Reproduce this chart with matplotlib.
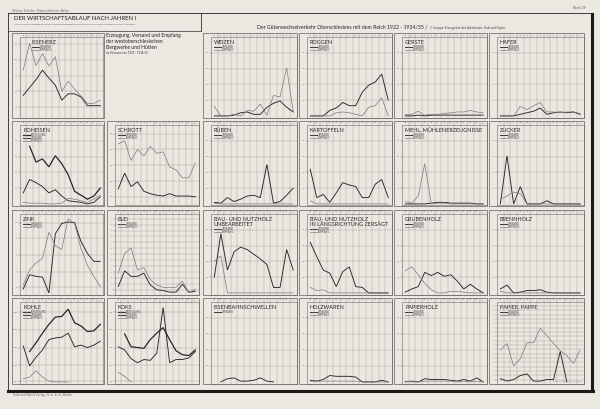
import numpy as np
import matplotlib.pyplot as plt

plt.rcParams['font.family'] = ['Lato', 'DejaVu Sans']

W, H = 600, 409
PAPER = '#ebe8e1'
INK = '#262626'
GREY = '#7a7a7a'
GRID = '#9d9b95'
nan = np.nan

years = ['1922', '1923', '1924', '1925', '1926', '1927', '1928', '1929',
         '1930', '1931', '1932', '1933', '1934/35']

# values, in % of each panel's height (the scales are not legible)
eisenerz_versand = [26, 36, 46, 58, 48, 39, 20, 28, 28, 24, 13, 13, 13]
eisenerz_empfang = [58, 92, 64, 79, 63, 75, 31, 44, 34, 25, 16, 16, 20]
weizen_versand = [0, 0, 0, 1, 4, 5, 2, 2, 11, 16, 19, 11, 5]
weizen_empfang = [12, 0, 0, 2, 0, 7, 6, 15, 1, 26, 24, 61, 6]
roggen_versand = [0, 0, 0, 7, 10, 17, 13, 13, 30, 39, 43, 53, 20]
roggen_empfang = [0, 0, 0, 0, 4, 5, 4, 2, 0, 11, 13, 23, 0]
gerste_versand = [0, 0, 1, 0, 1, 1, 1, 1, 1, 1, 1, 1, 1]
gerste_empfang = [2, 2, 6, 1, 2, 2, 3, 4, 5, 5, 7, 5, 4]
hafer_versand = [0, 0, 0, 2, 4, 6, 10, 2, 4, 5, 4, 5, 2]
hafer_empfang = [0, 0, 0, 12, 8, 13, 17, 5, 5, 4, 5, 5, 3]

roheisen_erzeugung = [nan, 73, 53, 57, 47, 61, 51, 37, 16, 11, 6, 10, 20]
roheisen_versand = [14, 31, 27, 22, 14, 18, 10, 4, 3, 2, 0, 2, 9]
roheisen_empfang = [2, 1, 1, 1, 0, 0, 1, 7, 6, 4, 2, 6, 11]
schrott_versand = [19, 39, 22, 28, 16, 13, 11, 10, 13, 10, 10, 10, 9]
schrott_empfang = [76, 80, 55, 69, 61, 73, 64, 66, 47, 43, 33, 33, 52]
rueben_versand = [2, 1, 8, 3, 6, 10, 11, 8, 50, 1, 3, 11, 20]
rueben_empfang = [1, 0, 0, 0, 0, 0, 0, 0, 0, 0, 0, 0, 0]
kartoffeln_versand = [44, 8, 12, 2, 14, 27, 24, 22, 8, 8, 25, 31, 8]
kartoffeln_empfang = [4, 0, 0, 0, 0, 0, 0, 0, 0, 0, 0, 0, 0]
mehl_versand = [0, 0, 0, 0, 1, 2, 2, 1, 1, 1, 1, 0, 0]
mehl_empfang = [3, 1, 10, 51, 0, 1, 1, 0, 0, 0, 0, 0, 0]
zucker_versand = [0, 61, 0, 22, 0, 0, 0, 4, 0, 0, 0, 0, 0]
zucker_empfang = [6, 10, 15, 13, 0, 0, 0, 0, 0, 0, 0, 0, 0]

zink_versand = [5, 23, 21, 20, 0, 75, 88, 90, 89, 65, 50, 40, 40]
zink_empfang = [10, 29, 38, 44, 77, 60, 55, 94, 88, 56, 35, 21, 8]
blei_versand = [8, 28, 21, 21, 25, 10, 4, 3, 1, 1, 11, 1, 2]
blei_empfang = [25, 50, 57, 29, 32, 17, 10, 7, 7, 7, 15, 0, 5]
bauholz_versand = [20, 75, 29, 52, 58, 55, 49, 43, 36, 7, 7, 55, 29]
bauholz_empfang = [40, 47, 0, 0, 0, 0, 0, 0, 0, 0, 0, 0, 0]
schnittholz_versand = [64, 46, 29, 25, 8, 27, 33, 8, 7, 0, 0, 0, 0]
schnittholz_empfang = [7, 3, 4, 0, 0, 0, 0, 0, 0, 0, 0, 0, 0]
grubenholz_versand = [1, 5, 8, 26, 22, 26, 21, 23, 15, 5, 11, 5, 0]
grubenholz_empfang = [28, 33, 23, 12, 4, 0, 0, 2, 2, 1, 0, 0, 0]
brennholz_versand = [5, 10, 0, 1, 3, 3, 4, 1, 0, 0, 0, 0, 0]
brennholz_empfang = [2, 0, 0, 0, 0, 0, 0, 0, 0, 0, 0, 0, 0]

kohle_foerderung = [nan, 38, 49, 61, 72, 81, 82, 91, 74, 70, 63, 64, 72]
kohle_versand = [45, 20, 31, 40, 53, 55, 56, 61, 44, 46, 43, 46, 51]
kohle_empfang = [4, 6, 14, 6, 1, 0, 0, 0, nan, nan, nan, nan, nan]
koks_erzeugung = [nan, 60, 44, 43, 42, 53, 61, 68, 53, 39, 34, 33, 40]
koks_versand = [44, 40, 29, 24, 28, 27, 36, 93, 24, 28, 28, 30, 38]
koks_empfang = [12, 7, 0, nan, nan, nan, nan, nan, nan, nan, nan, nan, nan]
schwellen_versand = [nan, 0, 4, 5, 1, 1, 2, 5, 1, 0, nan, nan, nan]
holzwaren_versand = [2, 1, 3, 8, 7, 7, 7, 6, 0, 0, 0, 2, 0]
holzwaren_empfang = [1, 1, 1, 1, 1, 1, 1, 1, 0, 0, 0, 0, 0]
papierholz_versand = [0, 1, 0, 4, 3, 3, 3, 2, 1, 3, 1, 5, 0]
papierholz_empfang = [1, 0, 0, 1, 1, 1, 1, 1, 0, 1, 0, 1, 0]
papier_versand = [4, 1, 3, 8, 10, 1, 1, 3, 3, 38, 0, nan, nan]
papier_empfang = [40, 48, 20, 29, 49, 49, 67, 58, 48, 39, 33, 23, 40]

# page layout (pixels)
cols = [(12, 104), (107, 199), (203, 297), (299, 392), (394, 487), (489, 584)]
rows = [(33, 118), (121, 206), (210, 295), (298, 384)]

STY = {'F': dict(color=INK, lw=0.9), 'Z': dict(color=INK, lw=0.9),
       'V': dict(color=INK, lw=0.65), 'E': dict(color=GREY, lw=0.5)}
NAMES = {'F': 'FÖRDERUNG', 'Z': 'ERZEUGUNG', 'V': 'VERSAND', 'E': 'EMPFANG'}

fig = plt.figure(figsize=(6, 4.09), dpi=100, facecolor=PAPER)
bg = fig.add_axes([0, 0, 1, 1])
bg.set_xlim(0, W)
bg.set_ylim(H, 0)
bg.axis('off')
bg.set_facecolor(PAPER)

# sheet frame and headers
bg.plot([7.5, 591, 591, 7.5, 7.5], [13, 13, 390, 390, 13], color='#222', lw=0.6)
bg.plot([591.5, 591.5], [13.5, 391], color='#1a1a1a', lw=2.2)
bg.plot([8, 592.5], [390.5, 390.5], color='#1a1a1a', lw=2.2)
bg.plot([201, 201], [13, 31], color='#333', lw=0.6)
bg.plot([7.5, 201], [30.5, 30.5], color='#333', lw=0.5)
bg.text(12, 10, 'Walter Geisler, Oberschlesien-Atlas', fontsize=2.6, color='#666', va='center')
bg.text(586, 8, 'Blatt 39', fontsize=2.6, color='#666', va='center', ha='right')
bg.text(13, 395, 'Volk und Reich Verlag, G. m. b. H., Berlin', fontsize=2.3, color='#666', va='center')
bg.text(13.5, 19, 'DER WIRTSCHAFTSABLAUF NACH JAHREN I', fontsize=4.3, color='#222', va='center')
bg.text(13.5, 24.5, 'Auf Grund amtlicher Statistik bearbeitet im Wirtschaftsgeographischen Seminar '
        'der Technischen Hochschule und Universität Breslau', fontsize=1.55, color='#555', va='center')
t1 = bg.text(257, 28.5, 'Der Güterwechselverkehr Oberschlesiens mit dem Reich 1922 - 1934/35 /',
             fontsize=3.7, color='#222', va='baseline')
bg.annotate('1. Gruppe: Erzeugnisse des Ackerbaues, Holz und Papier', xy=(1, 0), xycoords=t1,
            xytext=(1.5, 0), textcoords='offset points', fontsize=2.2, color='#444', va='bottom')
for i, line in enumerate(['Erzeugung, Versand und Empfang', 'der westoberschlesischen',
                          'Bergwerke und Hütten']):
    bg.text(106, 35.5 + 5.8 * i, line, fontsize=3.6, color='#222', va='center')
bg.text(106, 53.5, 'im Zeitraum von 1922 - 1934/35', fontsize=2.1, color='#444', va='center')

DEFAULT = [20, 40, 60, 80]


def panel(r, c, title, series, grid=DEFAULT, unit=100, tx=11):
    x0, x1 = cols[c]
    y0, y1 = rows[r]
    pl, pt, pr, pb = x0 + 8, y0 + 4, x1 - 0.5, y1 - 0.5
    bg.add_patch(plt.Rectangle((x0, y0), x1 - x0, y1 - y0, fill=False, ec='#6a6a66', lw=0.55))
    ax = fig.add_axes([pl / W, 1 - pb / H, (pr - pl) / W, (pb - pt) / H])
    ax.set_facecolor('none')
    n = len(years)
    xs = np.arange(n)
    ax.set_xlim(-0.5, n - 0.5)
    ax.set_ylim(-2, 100)
    for s in ax.spines.values():
        s.set_color('#6a6a66')
        s.set_linewidth(0.4)
    ax.set_xticks([])
    ax.set_yticks(grid)
    ax.set_yticklabels([str((i + 1) * unit) for i in range(len(grid))], fontsize=1.3, color='#666')
    ax.tick_params(axis='y', length=1.2, width=0.3, pad=0.6, colors='#777')
    ax.grid(axis='y', color=GRID, lw=0.3)
    for k in xs[:-1]:
        ax.axvline(k + 0.5, color=GRID, lw=0.3)
    # year strip above the plot
    sh = 4 / (pb - pt)
    tr = ax.get_xaxis_transform()
    ax.vlines(xs[:-1] + 0.5, 1, 1 + sh, transform=tr, colors='#777', lw=0.3, clip_on=False)
    for k, yr in enumerate(years):
        ax.text(k, 1 + sh / 2, yr, transform=tr, fontsize=1.0, color='#666',
                ha='center', va='center', clip_on=False)
    for key, vals in series:
        ax.plot(xs, vals, solid_joinstyle='miter', **STY[key])
    # title and legend
    bg.text(x0 + tx, y0 + 6.6, title, fontsize=4, color='#222', va='top', linespacing=1.05)
    ly = y0 + (19 if '\n' in title else 14)
    for i, (key, vals) in enumerate(series):
        yy = ly + 3 * i
        bg.plot([x0 + tx, x0 + tx + 7], [yy, yy], **STY[key])
        bg.text(x0 + tx + 8, yy, NAMES[key], fontsize=1.8, color='#444', va='center')
    return ax


panel(0, 0, 'EISENERZ', [('V', eisenerz_versand), ('E', eisenerz_empfang)],
      grid=[11, 31, 51, 71, 91], unit=250, tx=20)
panel(0, 2, 'WEIZEN', [('V', weizen_versand), ('E', weizen_empfang)])
panel(0, 3, 'ROGGEN', [('V', roggen_versand), ('E', roggen_empfang)])
panel(0, 4, 'GERSTE', [('V', gerste_versand), ('E', gerste_empfang)])
panel(0, 5, 'HAFER', [('V', hafer_versand), ('E', hafer_empfang)])

panel(1, 0, 'ROHEISEN', [('Z', roheisen_erzeugung), ('V', roheisen_versand), ('E', roheisen_empfang)])
panel(1, 1, 'SCHROTT', [('V', schrott_versand), ('E', schrott_empfang)], grid=[9, 29, 49, 69, 89])
panel(1, 2, 'RÜBEN', [('V', rueben_versand), ('E', rueben_empfang)])
panel(1, 3, 'KARTOFFELN', [('V', kartoffeln_versand), ('E', kartoffeln_empfang)])
panel(1, 4, 'MEHL, MÜHLENERZEUGNISSE', [('V', mehl_versand), ('E', mehl_empfang)])
panel(1, 5, 'ZUCKER', [('V', zucker_versand), ('E', zucker_empfang)])

panel(2, 0, 'ZINK', [('V', zink_versand), ('E', zink_empfang)], grid=[7, 27, 48, 69, 89], unit=20)
panel(2, 1, 'BLEI', [('V', blei_versand), ('E', blei_empfang)],
      grid=list(np.arange(4, 96, 7.5)), unit=5)
panel(2, 2, 'BAU- UND NUTZHOLZ\nUNBEARBEITET', [('V', bauholz_versand), ('E', bauholz_empfang)])
panel(2, 3, 'BAU- UND NUTZHOLZ\nIN LÄNGSRICHTUNG ZERSÄGT',
      [('V', schnittholz_versand), ('E', schnittholz_empfang)])
panel(2, 4, 'GRUBENHOLZ', [('V', grubenholz_versand), ('E', grubenholz_empfang)])
panel(2, 5, 'BRENNHOLZ', [('V', brennholz_versand), ('E', brennholz_empfang)])

panel(3, 0, 'KOHLE', [('F', kohle_foerderung), ('V', kohle_versand), ('E', kohle_empfang)],
      grid=[1, 21, 43, 65, 87], unit=5000)
panel(3, 1, 'KOKS', [('Z', koks_erzeugung), ('V', koks_versand), ('E', koks_empfang)],
      grid=[1, 21, 43, 65, 87], unit=500)
panel(3, 2, 'EISENBAHNSCHWELLEN', [('V', schwellen_versand)])
panel(3, 3, 'HOLZWAREN', [('V', holzwaren_versand), ('E', holzwaren_empfang)])
panel(3, 4, 'PAPIERHOLZ', [('V', papierholz_versand), ('E', papierholz_empfang)])
panel(3, 5, 'PAPIER, PAPPE', [('V', papier_versand), ('E', papier_empfang)],
      grid=list(np.arange(3, 97, 5.4)), unit=5)
bg.text(582, 381.5, 'ENTWURF UND ZEICHNUNG: W. GEISLER', fontsize=1.1, color='#666',
        ha='right', va='center')

fig.savefig('out.png', dpi=100, facecolor=PAPER)
